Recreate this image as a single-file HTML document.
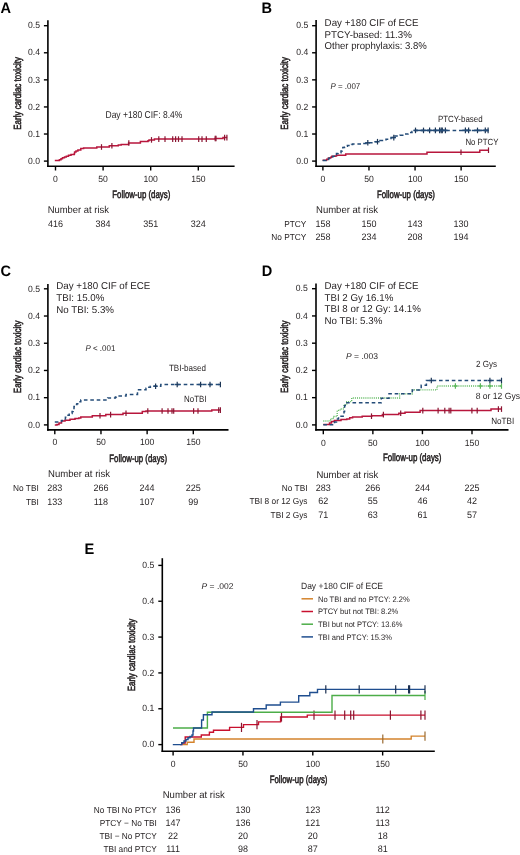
<!DOCTYPE html>
<html><head><meta charset="utf-8"><style>
html,body{margin:0;padding:0;background:#fff;}
body{width:520px;height:855px;overflow:hidden;}
svg{display:block;font-family:"Liberation Sans", sans-serif;text-rendering:geometricPrecision;filter:blur(0.3px);}
</style></head><body>
<svg width="520" height="855" viewBox="0 0 520 855" fill="#231f20" stroke-linecap="butt">
<text x="0.40" y="12.70" font-size="15.18" font-weight="bold" fill="#000" textLength="10.54" lengthAdjust="spacingAndGlyphs">A</text>
<line x1="47.90" y1="20.30" x2="47.90" y2="166.95" stroke="#000" stroke-width="1.6"/>
<line x1="47.15" y1="166.20" x2="234.60" y2="166.20" stroke="#000" stroke-width="1.6"/>
<line x1="43.90" y1="161.10" x2="47.90" y2="161.10" stroke="#000" stroke-width="1.4"/>
<text x="40.00" y="163.80" font-size="9.03" text-anchor="end" textLength="11.96" lengthAdjust="spacingAndGlyphs">0.0</text>
<line x1="43.90" y1="134.02" x2="47.90" y2="134.02" stroke="#000" stroke-width="1.4"/>
<text x="40.00" y="136.72" font-size="9.03" text-anchor="end" textLength="11.96" lengthAdjust="spacingAndGlyphs">0.1</text>
<line x1="43.90" y1="106.94" x2="47.90" y2="106.94" stroke="#000" stroke-width="1.4"/>
<text x="40.00" y="109.64" font-size="9.03" text-anchor="end" textLength="11.96" lengthAdjust="spacingAndGlyphs">0.2</text>
<line x1="43.90" y1="79.86" x2="47.90" y2="79.86" stroke="#000" stroke-width="1.4"/>
<text x="40.00" y="82.56" font-size="9.03" text-anchor="end" textLength="11.96" lengthAdjust="spacingAndGlyphs">0.3</text>
<line x1="43.90" y1="52.78" x2="47.90" y2="52.78" stroke="#000" stroke-width="1.4"/>
<text x="40.00" y="55.48" font-size="9.03" text-anchor="end" textLength="11.96" lengthAdjust="spacingAndGlyphs">0.4</text>
<line x1="43.90" y1="25.70" x2="47.90" y2="25.70" stroke="#000" stroke-width="1.4"/>
<text x="40.00" y="28.40" font-size="9.03" text-anchor="end" textLength="11.96" lengthAdjust="spacingAndGlyphs">0.5</text>
<line x1="55.50" y1="166.20" x2="55.50" y2="170.50" stroke="#000" stroke-width="1.4"/>
<text x="55.50" y="182.00" font-size="9.03" text-anchor="middle" textLength="4.78" lengthAdjust="spacingAndGlyphs">0</text>
<line x1="103.10" y1="166.20" x2="103.10" y2="170.50" stroke="#000" stroke-width="1.4"/>
<text x="103.10" y="182.00" font-size="9.03" text-anchor="middle" textLength="9.57" lengthAdjust="spacingAndGlyphs">50</text>
<line x1="150.70" y1="166.20" x2="150.70" y2="170.50" stroke="#000" stroke-width="1.4"/>
<text x="150.70" y="182.00" font-size="9.03" text-anchor="middle" textLength="14.35" lengthAdjust="spacingAndGlyphs">100</text>
<line x1="198.30" y1="166.20" x2="198.30" y2="170.50" stroke="#000" stroke-width="1.4"/>
<text x="198.30" y="182.00" font-size="9.03" text-anchor="middle" textLength="14.35" lengthAdjust="spacingAndGlyphs">150</text>
<text x="141.25" y="197.70" font-size="10.80" text-anchor="middle" textLength="58.00" lengthAdjust="spacingAndGlyphs" stroke="#231f20" stroke-width="0.55">Follow-up (days)</text>
<text x="20.80" y="93.40" font-size="10.40" text-anchor="middle" textLength="72.60" lengthAdjust="spacingAndGlyphs" transform="rotate(-90 20.80 93.40)" stroke="#231f20" stroke-width="0.55">Early cardiac toxicity</text>
<path d="M54.80 160.60H59.40V159.80H61.00V158.80H62.50V157.80H64.50V157.00H66.30V156.20H68.50V155.30H71.00V154.50H74.30V153.50H74.60V151.90H76.00V150.90H77.90V149.90H80.80V148.60H83.60V147.90H96.80V147.00H109.30V145.80H118.30V145.10H121.20V144.60H128.60V143.00H140.40V141.60H148.00V140.80H149.00V139.90H154.40V139.10H215.00V138.50H223.00V137.60H227.20" fill="none" stroke="#b8163c" stroke-width="1.5"/>
<line x1="101.50" y1="144.20" x2="101.50" y2="149.80" stroke="#8a1633" stroke-width="1.2"/>
<line x1="111.90" y1="143.00" x2="111.90" y2="148.60" stroke="#8a1633" stroke-width="1.2"/>
<line x1="128.80" y1="140.20" x2="128.80" y2="145.80" stroke="#8a1633" stroke-width="1.2"/>
<line x1="151.50" y1="137.10" x2="151.50" y2="142.70" stroke="#8a1633" stroke-width="1.2"/>
<line x1="158.80" y1="136.30" x2="158.80" y2="141.90" stroke="#8a1633" stroke-width="1.2"/>
<line x1="165.00" y1="136.30" x2="165.00" y2="141.90" stroke="#8a1633" stroke-width="1.2"/>
<line x1="172.70" y1="136.30" x2="172.70" y2="141.90" stroke="#8a1633" stroke-width="1.2"/>
<line x1="175.60" y1="136.30" x2="175.60" y2="141.90" stroke="#8a1633" stroke-width="1.2"/>
<line x1="178.50" y1="136.30" x2="178.50" y2="141.90" stroke="#8a1633" stroke-width="1.2"/>
<line x1="182.00" y1="136.30" x2="182.00" y2="141.90" stroke="#8a1633" stroke-width="1.2"/>
<line x1="198.70" y1="136.30" x2="198.70" y2="141.90" stroke="#8a1633" stroke-width="1.2"/>
<line x1="202.00" y1="136.30" x2="202.00" y2="141.90" stroke="#8a1633" stroke-width="1.2"/>
<line x1="206.30" y1="136.30" x2="206.30" y2="141.90" stroke="#8a1633" stroke-width="1.2"/>
<line x1="215.20" y1="135.70" x2="215.20" y2="141.30" stroke="#8a1633" stroke-width="1.2"/>
<line x1="216.00" y1="135.70" x2="216.00" y2="141.30" stroke="#8a1633" stroke-width="1.2"/>
<line x1="224.60" y1="134.80" x2="224.60" y2="140.40" stroke="#8a1633" stroke-width="1.2"/>
<line x1="226.90" y1="134.80" x2="226.90" y2="140.40" stroke="#8a1633" stroke-width="1.2"/>
<text x="105.50" y="118.20" font-size="9.97" textLength="76.80" lengthAdjust="spacingAndGlyphs">Day +180 CIF: 8.4%</text>
<text x="47.70" y="213.10" font-size="9.97" textLength="61.20" lengthAdjust="spacingAndGlyphs">Number at risk</text>
<text x="55.50" y="227.00" font-size="9.45" text-anchor="middle" textLength="15.02" lengthAdjust="spacingAndGlyphs">416</text>
<text x="103.10" y="227.00" font-size="9.45" text-anchor="middle" textLength="15.02" lengthAdjust="spacingAndGlyphs">384</text>
<text x="150.70" y="227.00" font-size="9.45" text-anchor="middle" textLength="15.02" lengthAdjust="spacingAndGlyphs">351</text>
<text x="198.30" y="227.00" font-size="9.45" text-anchor="middle" textLength="15.02" lengthAdjust="spacingAndGlyphs">324</text>
<text x="261.60" y="12.80" font-size="15.18" font-weight="bold" fill="#000" textLength="10.54" lengthAdjust="spacingAndGlyphs">B</text>
<line x1="316.10" y1="20.10" x2="316.10" y2="166.95" stroke="#000" stroke-width="1.6"/>
<line x1="315.35" y1="166.20" x2="495.80" y2="166.20" stroke="#000" stroke-width="1.6"/>
<line x1="312.10" y1="161.10" x2="316.10" y2="161.10" stroke="#000" stroke-width="1.4"/>
<text x="308.20" y="163.80" font-size="9.03" text-anchor="end" textLength="11.96" lengthAdjust="spacingAndGlyphs">0.0</text>
<line x1="312.10" y1="134.02" x2="316.10" y2="134.02" stroke="#000" stroke-width="1.4"/>
<text x="308.20" y="136.72" font-size="9.03" text-anchor="end" textLength="11.96" lengthAdjust="spacingAndGlyphs">0.1</text>
<line x1="312.10" y1="106.94" x2="316.10" y2="106.94" stroke="#000" stroke-width="1.4"/>
<text x="308.20" y="109.64" font-size="9.03" text-anchor="end" textLength="11.96" lengthAdjust="spacingAndGlyphs">0.2</text>
<line x1="312.10" y1="79.86" x2="316.10" y2="79.86" stroke="#000" stroke-width="1.4"/>
<text x="308.20" y="82.56" font-size="9.03" text-anchor="end" textLength="11.96" lengthAdjust="spacingAndGlyphs">0.3</text>
<line x1="312.10" y1="52.78" x2="316.10" y2="52.78" stroke="#000" stroke-width="1.4"/>
<text x="308.20" y="55.48" font-size="9.03" text-anchor="end" textLength="11.96" lengthAdjust="spacingAndGlyphs">0.4</text>
<line x1="312.10" y1="25.70" x2="316.10" y2="25.70" stroke="#000" stroke-width="1.4"/>
<text x="308.20" y="28.40" font-size="9.03" text-anchor="end" textLength="11.96" lengthAdjust="spacingAndGlyphs">0.5</text>
<line x1="322.90" y1="166.20" x2="322.90" y2="170.50" stroke="#000" stroke-width="1.4"/>
<text x="322.90" y="182.00" font-size="9.03" text-anchor="middle" textLength="4.78" lengthAdjust="spacingAndGlyphs">0</text>
<line x1="368.97" y1="166.20" x2="368.97" y2="170.50" stroke="#000" stroke-width="1.4"/>
<text x="368.97" y="182.00" font-size="9.03" text-anchor="middle" textLength="9.57" lengthAdjust="spacingAndGlyphs">50</text>
<line x1="415.05" y1="166.20" x2="415.05" y2="170.50" stroke="#000" stroke-width="1.4"/>
<text x="415.05" y="182.00" font-size="9.03" text-anchor="middle" textLength="14.35" lengthAdjust="spacingAndGlyphs">100</text>
<line x1="461.12" y1="166.20" x2="461.12" y2="170.50" stroke="#000" stroke-width="1.4"/>
<text x="461.12" y="182.00" font-size="9.03" text-anchor="middle" textLength="14.35" lengthAdjust="spacingAndGlyphs">150</text>
<text x="405.95" y="197.80" font-size="10.80" text-anchor="middle" textLength="58.00" lengthAdjust="spacingAndGlyphs" stroke="#231f20" stroke-width="0.55">Follow-up (days)</text>
<text x="288.50" y="93.40" font-size="10.40" text-anchor="middle" textLength="72.60" lengthAdjust="spacingAndGlyphs" transform="rotate(-90 288.50 93.40)" stroke="#231f20" stroke-width="0.55">Early cardiac toxicity</text>
<text x="324.60" y="26.00" font-size="9.95" textLength="94.02" lengthAdjust="spacingAndGlyphs">Day +180 CIF of ECE</text>
<text x="324.60" y="37.60" font-size="9.95" textLength="87.26" lengthAdjust="spacingAndGlyphs">PTCY-based: 11.3%</text>
<text x="324.60" y="49.20" font-size="9.95" textLength="102.30" lengthAdjust="spacingAndGlyphs">Other prophylaxis: 3.8%</text>
<text x="330.40" y="89.00" font-size="8.40" textLength="29.88" lengthAdjust="spacingAndGlyphs"><tspan font-style="italic">P</tspan> = .007</text>
<path d="M322.60 160.30H326.70V159.20H328.40V158.00H330.70V157.30H331.80V156.30H335.30V155.90H336.50V155.20H345.70V153.90H427.00V152.20H479.80V150.20H488.50" fill="none" stroke="#b8163c" stroke-width="1.5"/>
<line x1="461.00" y1="149.40" x2="461.00" y2="155.00" stroke="#8a1633" stroke-width="1.2"/>
<line x1="488.50" y1="147.40" x2="488.50" y2="153.00" stroke="#8a1633" stroke-width="1.2"/>
<path d="M322.60 160.40H326.10V159.60H328.50V158.60H329.50V157.90H330.70V156.80H333.00V156.20H334.20V155.10H335.30V154.40H336.50V153.40H338.20V152.70H341.00V151.00H342.20V149.80H342.80V147.50H344.50V146.90H346.30V146.30H347.40V145.50H349.70V145.20H351.50V144.40H352.60V144.00H363.00V143.40H366.00V142.80H373.00V141.70H380.00V140.60H386.00V139.30H391.00V137.60H395.00V136.00H400.00V135.30H404.00V134.00H408.00V132.60H412.00V131.40H415.00V130.40H488.50" fill="none" stroke="#244c78" stroke-width="1.5" stroke-dasharray="3.6 2.8"/>
<line x1="365.60" y1="142.80" x2="370.00" y2="142.80" stroke="#244c78" stroke-width="1.5"/>
<line x1="367.80" y1="140.00" x2="367.80" y2="145.60" stroke="#1c3555" stroke-width="1.2"/>
<line x1="375.30" y1="141.70" x2="379.70" y2="141.70" stroke="#244c78" stroke-width="1.5"/>
<line x1="377.50" y1="138.90" x2="377.50" y2="144.50" stroke="#1c3555" stroke-width="1.2"/>
<line x1="391.60" y1="137.60" x2="396.00" y2="137.60" stroke="#244c78" stroke-width="1.5"/>
<line x1="393.80" y1="134.80" x2="393.80" y2="140.40" stroke="#1c3555" stroke-width="1.2"/>
<line x1="413.30" y1="130.40" x2="417.70" y2="130.40" stroke="#244c78" stroke-width="1.5"/>
<line x1="415.50" y1="127.60" x2="415.50" y2="133.20" stroke="#1c3555" stroke-width="1.2"/>
<line x1="421.30" y1="130.40" x2="425.70" y2="130.40" stroke="#244c78" stroke-width="1.5"/>
<line x1="423.50" y1="127.60" x2="423.50" y2="133.20" stroke="#1c3555" stroke-width="1.2"/>
<line x1="427.40" y1="130.40" x2="431.80" y2="130.40" stroke="#244c78" stroke-width="1.5"/>
<line x1="429.60" y1="127.60" x2="429.60" y2="133.20" stroke="#1c3555" stroke-width="1.2"/>
<line x1="433.20" y1="130.40" x2="437.60" y2="130.40" stroke="#244c78" stroke-width="1.5"/>
<line x1="435.40" y1="127.60" x2="435.40" y2="133.20" stroke="#1c3555" stroke-width="1.2"/>
<line x1="437.40" y1="130.40" x2="441.80" y2="130.40" stroke="#244c78" stroke-width="1.5"/>
<line x1="439.60" y1="127.60" x2="439.60" y2="133.20" stroke="#1c3555" stroke-width="1.2"/>
<line x1="439.00" y1="130.40" x2="443.40" y2="130.40" stroke="#244c78" stroke-width="1.5"/>
<line x1="441.20" y1="127.60" x2="441.20" y2="133.20" stroke="#1c3555" stroke-width="1.2"/>
<line x1="440.10" y1="130.40" x2="444.50" y2="130.40" stroke="#244c78" stroke-width="1.5"/>
<line x1="442.30" y1="127.60" x2="442.30" y2="133.20" stroke="#1c3555" stroke-width="1.2"/>
<line x1="443.20" y1="130.40" x2="447.60" y2="130.40" stroke="#244c78" stroke-width="1.5"/>
<line x1="445.40" y1="127.60" x2="445.40" y2="133.20" stroke="#1c3555" stroke-width="1.2"/>
<line x1="463.20" y1="130.40" x2="467.60" y2="130.40" stroke="#244c78" stroke-width="1.5"/>
<line x1="465.40" y1="127.60" x2="465.40" y2="133.20" stroke="#1c3555" stroke-width="1.2"/>
<line x1="466.40" y1="130.40" x2="470.80" y2="130.40" stroke="#244c78" stroke-width="1.5"/>
<line x1="468.60" y1="127.60" x2="468.60" y2="133.20" stroke="#1c3555" stroke-width="1.2"/>
<line x1="475.30" y1="130.40" x2="479.70" y2="130.40" stroke="#244c78" stroke-width="1.5"/>
<line x1="477.50" y1="127.60" x2="477.50" y2="133.20" stroke="#1c3555" stroke-width="1.2"/>
<line x1="483.10" y1="130.40" x2="487.50" y2="130.40" stroke="#244c78" stroke-width="1.5"/>
<line x1="485.30" y1="127.60" x2="485.30" y2="133.20" stroke="#1c3555" stroke-width="1.2"/>
<line x1="485.90" y1="130.40" x2="488.50" y2="130.40" stroke="#244c78" stroke-width="1.5"/>
<line x1="488.10" y1="127.60" x2="488.10" y2="133.20" stroke="#1c3555" stroke-width="1.2"/>
<line x1="415.50" y1="130.40" x2="446.50" y2="130.40" stroke="#244c78" stroke-width="1.5"/>
<line x1="462.00" y1="130.40" x2="470.50" y2="130.40" stroke="#244c78" stroke-width="1.5"/>
<line x1="474.00" y1="130.40" x2="488.50" y2="130.40" stroke="#244c78" stroke-width="1.5"/>
<text x="437.90" y="121.60" font-size="9.03" textLength="44.80" lengthAdjust="spacingAndGlyphs">PTCY-based</text>
<text x="465.40" y="145.20" font-size="9.03" textLength="33.10" lengthAdjust="spacingAndGlyphs">No PTCY</text>
<text x="316.00" y="213.30" font-size="9.97" textLength="61.90" lengthAdjust="spacingAndGlyphs">Number at risk</text>
<text x="306.30" y="226.80" font-size="8.72" text-anchor="end" textLength="22.14" lengthAdjust="spacingAndGlyphs">PTCY</text>
<text x="306.30" y="240.20" font-size="8.72" text-anchor="end" textLength="35.05" lengthAdjust="spacingAndGlyphs">No PTCY</text>
<text x="322.90" y="226.80" font-size="9.45" text-anchor="middle" textLength="15.02" lengthAdjust="spacingAndGlyphs">158</text>
<text x="368.97" y="226.80" font-size="9.45" text-anchor="middle" textLength="15.02" lengthAdjust="spacingAndGlyphs">150</text>
<text x="415.05" y="226.80" font-size="9.45" text-anchor="middle" textLength="15.02" lengthAdjust="spacingAndGlyphs">143</text>
<text x="461.12" y="226.80" font-size="9.45" text-anchor="middle" textLength="15.02" lengthAdjust="spacingAndGlyphs">130</text>
<text x="322.90" y="240.20" font-size="9.45" text-anchor="middle" textLength="15.02" lengthAdjust="spacingAndGlyphs">258</text>
<text x="368.97" y="240.20" font-size="9.45" text-anchor="middle" textLength="15.02" lengthAdjust="spacingAndGlyphs">234</text>
<text x="415.05" y="240.20" font-size="9.45" text-anchor="middle" textLength="15.02" lengthAdjust="spacingAndGlyphs">208</text>
<text x="461.12" y="240.20" font-size="9.45" text-anchor="middle" textLength="15.02" lengthAdjust="spacingAndGlyphs">194</text>
<text x="0.40" y="275.70" font-size="15.18" font-weight="bold" fill="#000" textLength="10.54" lengthAdjust="spacingAndGlyphs">C</text>
<line x1="47.90" y1="284.10" x2="47.90" y2="430.65" stroke="#000" stroke-width="1.6"/>
<line x1="47.15" y1="429.90" x2="228.50" y2="429.90" stroke="#000" stroke-width="1.6"/>
<line x1="43.90" y1="424.90" x2="47.90" y2="424.90" stroke="#000" stroke-width="1.4"/>
<text x="40.00" y="427.60" font-size="9.03" text-anchor="end" textLength="11.96" lengthAdjust="spacingAndGlyphs">0.0</text>
<line x1="43.90" y1="397.68" x2="47.90" y2="397.68" stroke="#000" stroke-width="1.4"/>
<text x="40.00" y="400.38" font-size="9.03" text-anchor="end" textLength="11.96" lengthAdjust="spacingAndGlyphs">0.1</text>
<line x1="43.90" y1="370.46" x2="47.90" y2="370.46" stroke="#000" stroke-width="1.4"/>
<text x="40.00" y="373.16" font-size="9.03" text-anchor="end" textLength="11.96" lengthAdjust="spacingAndGlyphs">0.2</text>
<line x1="43.90" y1="343.24" x2="47.90" y2="343.24" stroke="#000" stroke-width="1.4"/>
<text x="40.00" y="345.94" font-size="9.03" text-anchor="end" textLength="11.96" lengthAdjust="spacingAndGlyphs">0.3</text>
<line x1="43.90" y1="316.02" x2="47.90" y2="316.02" stroke="#000" stroke-width="1.4"/>
<text x="40.00" y="318.72" font-size="9.03" text-anchor="end" textLength="11.96" lengthAdjust="spacingAndGlyphs">0.4</text>
<line x1="43.90" y1="288.80" x2="47.90" y2="288.80" stroke="#000" stroke-width="1.4"/>
<text x="40.00" y="291.50" font-size="9.03" text-anchor="end" textLength="11.96" lengthAdjust="spacingAndGlyphs">0.5</text>
<line x1="54.80" y1="429.90" x2="54.80" y2="434.20" stroke="#000" stroke-width="1.4"/>
<text x="54.80" y="445.40" font-size="9.03" text-anchor="middle" textLength="4.78" lengthAdjust="spacingAndGlyphs">0</text>
<line x1="100.97" y1="429.90" x2="100.97" y2="434.20" stroke="#000" stroke-width="1.4"/>
<text x="100.97" y="445.40" font-size="9.03" text-anchor="middle" textLength="9.57" lengthAdjust="spacingAndGlyphs">50</text>
<line x1="147.13" y1="429.90" x2="147.13" y2="434.20" stroke="#000" stroke-width="1.4"/>
<text x="147.13" y="445.40" font-size="9.03" text-anchor="middle" textLength="14.35" lengthAdjust="spacingAndGlyphs">100</text>
<line x1="193.30" y1="429.90" x2="193.30" y2="434.20" stroke="#000" stroke-width="1.4"/>
<text x="193.30" y="445.40" font-size="9.03" text-anchor="middle" textLength="14.35" lengthAdjust="spacingAndGlyphs">150</text>
<text x="138.20" y="461.50" font-size="10.80" text-anchor="middle" textLength="57.70" lengthAdjust="spacingAndGlyphs" stroke="#231f20" stroke-width="0.55">Follow-up (days)</text>
<text x="20.80" y="356.85" font-size="10.40" text-anchor="middle" textLength="72.60" lengthAdjust="spacingAndGlyphs" transform="rotate(-90 20.80 356.85)" stroke="#231f20" stroke-width="0.55">Early cardiac toxicity</text>
<text x="56.20" y="289.10" font-size="9.95" textLength="94.02" lengthAdjust="spacingAndGlyphs">Day +180 CIF of ECE</text>
<text x="56.20" y="301.00" font-size="9.95" textLength="48.23" lengthAdjust="spacingAndGlyphs">TBI: 15.0%</text>
<text x="56.20" y="312.70" font-size="9.95" textLength="57.81" lengthAdjust="spacingAndGlyphs">No TBI: 5.3%</text>
<text x="85.40" y="350.70" font-size="8.40" textLength="30.00" lengthAdjust="spacingAndGlyphs"><tspan font-style="italic">P</tspan> &lt; .001</text>
<path d="M54.80 425.00H57.00V424.60H59.00V423.00H61.50V421.00H65.00V420.20H70.00V419.30H75.00V418.60H78.80V418.00H80.80V417.00H92.30V415.80H105.80V414.60H123.00V413.30H142.30V411.60H146.00V411.00H211.80V410.10H220.40" fill="none" stroke="#b8163c" stroke-width="1.5"/>
<line x1="100.00" y1="413.00" x2="100.00" y2="418.60" stroke="#8a1633" stroke-width="1.2"/>
<line x1="110.60" y1="411.80" x2="110.60" y2="417.40" stroke="#8a1633" stroke-width="1.2"/>
<line x1="126.00" y1="410.50" x2="126.00" y2="416.10" stroke="#8a1633" stroke-width="1.2"/>
<line x1="147.80" y1="408.20" x2="147.80" y2="413.80" stroke="#8a1633" stroke-width="1.2"/>
<line x1="162.10" y1="408.20" x2="162.10" y2="413.80" stroke="#8a1633" stroke-width="1.2"/>
<line x1="168.00" y1="408.20" x2="168.00" y2="413.80" stroke="#8a1633" stroke-width="1.2"/>
<line x1="172.00" y1="408.20" x2="172.00" y2="413.80" stroke="#8a1633" stroke-width="1.2"/>
<line x1="173.70" y1="408.20" x2="173.70" y2="413.80" stroke="#8a1633" stroke-width="1.2"/>
<line x1="193.60" y1="408.20" x2="193.60" y2="413.80" stroke="#8a1633" stroke-width="1.2"/>
<line x1="198.00" y1="408.20" x2="198.00" y2="413.80" stroke="#8a1633" stroke-width="1.2"/>
<line x1="218.70" y1="407.30" x2="218.70" y2="412.90" stroke="#8a1633" stroke-width="1.2"/>
<line x1="220.40" y1="407.30" x2="220.40" y2="412.90" stroke="#8a1633" stroke-width="1.2"/>
<path d="M54.80 422.00H59.00V421.60H61.50V420.40H63.50V419.00H65.40V417.20H67.30V415.30H69.20V413.40H72.10V411.40H73.10V409.40H74.00V406.60H75.00V404.60H76.90V403.70H78.50V401.70H80.80V399.90H107.70V397.90H115.40V396.90H116.30V396.00H126.00V394.60H137.50V389.80H146.00V388.30H148.00V387.30H150.40V386.20H160.80V384.50H220.40" fill="none" stroke="#244c78" stroke-width="1.5" stroke-dasharray="3.6 2.8"/>
<line x1="153.40" y1="386.20" x2="157.80" y2="386.20" stroke="#244c78" stroke-width="1.5"/>
<line x1="155.60" y1="383.40" x2="155.60" y2="389.00" stroke="#1c3555" stroke-width="1.2"/>
<line x1="175.00" y1="384.50" x2="179.40" y2="384.50" stroke="#244c78" stroke-width="1.5"/>
<line x1="177.20" y1="381.70" x2="177.20" y2="387.30" stroke="#1c3555" stroke-width="1.2"/>
<line x1="198.40" y1="384.50" x2="202.80" y2="384.50" stroke="#244c78" stroke-width="1.5"/>
<line x1="200.60" y1="381.70" x2="200.60" y2="387.30" stroke="#1c3555" stroke-width="1.2"/>
<line x1="207.80" y1="384.50" x2="212.20" y2="384.50" stroke="#244c78" stroke-width="1.5"/>
<line x1="210.00" y1="381.70" x2="210.00" y2="387.30" stroke="#1c3555" stroke-width="1.2"/>
<line x1="218.20" y1="384.50" x2="220.40" y2="384.50" stroke="#244c78" stroke-width="1.5"/>
<line x1="220.40" y1="381.70" x2="220.40" y2="387.30" stroke="#1c3555" stroke-width="1.2"/>
<text x="168.90" y="370.50" font-size="9.03" textLength="37.10" lengthAdjust="spacingAndGlyphs">TBI-based</text>
<text x="184.10" y="402.30" font-size="9.03" textLength="22.50" lengthAdjust="spacingAndGlyphs">NoTBI</text>
<text x="48.00" y="477.00" font-size="9.97" textLength="62.00" lengthAdjust="spacingAndGlyphs">Number at risk</text>
<text x="38.80" y="491.30" font-size="8.72" text-anchor="end" textLength="25.68" lengthAdjust="spacingAndGlyphs">No TBI</text>
<text x="38.80" y="504.60" font-size="8.72" text-anchor="end" textLength="12.91" lengthAdjust="spacingAndGlyphs">TBI</text>
<text x="54.80" y="491.30" font-size="9.45" text-anchor="middle" textLength="15.02" lengthAdjust="spacingAndGlyphs">283</text>
<text x="100.97" y="491.30" font-size="9.45" text-anchor="middle" textLength="15.02" lengthAdjust="spacingAndGlyphs">266</text>
<text x="147.13" y="491.30" font-size="9.45" text-anchor="middle" textLength="15.02" lengthAdjust="spacingAndGlyphs">244</text>
<text x="193.30" y="491.30" font-size="9.45" text-anchor="middle" textLength="15.02" lengthAdjust="spacingAndGlyphs">225</text>
<text x="54.80" y="504.60" font-size="9.45" text-anchor="middle" textLength="15.02" lengthAdjust="spacingAndGlyphs">133</text>
<text x="100.97" y="504.60" font-size="9.45" text-anchor="middle" textLength="14.35" lengthAdjust="spacingAndGlyphs">118</text>
<text x="147.13" y="504.60" font-size="9.45" text-anchor="middle" textLength="15.02" lengthAdjust="spacingAndGlyphs">107</text>
<text x="193.30" y="504.60" font-size="9.45" text-anchor="middle" textLength="10.01" lengthAdjust="spacingAndGlyphs">99</text>
<text x="261.80" y="275.90" font-size="15.18" font-weight="bold" fill="#000" textLength="10.54" lengthAdjust="spacingAndGlyphs">D</text>
<line x1="316.00" y1="283.50" x2="316.00" y2="430.65" stroke="#000" stroke-width="1.6"/>
<line x1="315.25" y1="429.90" x2="508.50" y2="429.90" stroke="#000" stroke-width="1.6"/>
<line x1="312.00" y1="424.90" x2="316.00" y2="424.90" stroke="#000" stroke-width="1.4"/>
<text x="307.80" y="427.60" font-size="9.03" text-anchor="end" textLength="11.96" lengthAdjust="spacingAndGlyphs">0.0</text>
<line x1="312.00" y1="397.66" x2="316.00" y2="397.66" stroke="#000" stroke-width="1.4"/>
<text x="307.80" y="400.36" font-size="9.03" text-anchor="end" textLength="11.96" lengthAdjust="spacingAndGlyphs">0.1</text>
<line x1="312.00" y1="370.42" x2="316.00" y2="370.42" stroke="#000" stroke-width="1.4"/>
<text x="307.80" y="373.12" font-size="9.03" text-anchor="end" textLength="11.96" lengthAdjust="spacingAndGlyphs">0.2</text>
<line x1="312.00" y1="343.18" x2="316.00" y2="343.18" stroke="#000" stroke-width="1.4"/>
<text x="307.80" y="345.88" font-size="9.03" text-anchor="end" textLength="11.96" lengthAdjust="spacingAndGlyphs">0.3</text>
<line x1="312.00" y1="315.94" x2="316.00" y2="315.94" stroke="#000" stroke-width="1.4"/>
<text x="307.80" y="318.64" font-size="9.03" text-anchor="end" textLength="11.96" lengthAdjust="spacingAndGlyphs">0.4</text>
<line x1="312.00" y1="288.70" x2="316.00" y2="288.70" stroke="#000" stroke-width="1.4"/>
<text x="307.80" y="291.40" font-size="9.03" text-anchor="end" textLength="11.96" lengthAdjust="spacingAndGlyphs">0.5</text>
<line x1="323.30" y1="429.90" x2="323.30" y2="434.20" stroke="#000" stroke-width="1.4"/>
<text x="323.30" y="445.60" font-size="9.03" text-anchor="middle" textLength="4.78" lengthAdjust="spacingAndGlyphs">0</text>
<line x1="372.87" y1="429.90" x2="372.87" y2="434.20" stroke="#000" stroke-width="1.4"/>
<text x="372.87" y="445.60" font-size="9.03" text-anchor="middle" textLength="9.57" lengthAdjust="spacingAndGlyphs">50</text>
<line x1="422.43" y1="429.90" x2="422.43" y2="434.20" stroke="#000" stroke-width="1.4"/>
<text x="422.43" y="445.60" font-size="9.03" text-anchor="middle" textLength="14.35" lengthAdjust="spacingAndGlyphs">100</text>
<line x1="472.00" y1="429.90" x2="472.00" y2="434.20" stroke="#000" stroke-width="1.4"/>
<text x="472.00" y="445.60" font-size="9.03" text-anchor="middle" textLength="14.35" lengthAdjust="spacingAndGlyphs">150</text>
<text x="412.25" y="461.00" font-size="10.80" text-anchor="middle" textLength="58.40" lengthAdjust="spacingAndGlyphs" stroke="#231f20" stroke-width="0.55">Follow-up (days)</text>
<text x="288.40" y="356.80" font-size="10.40" text-anchor="middle" textLength="72.60" lengthAdjust="spacingAndGlyphs" transform="rotate(-90 288.40 356.80)" stroke="#231f20" stroke-width="0.55">Early cardiac toxicity</text>
<text x="324.50" y="289.00" font-size="9.95" textLength="94.02" lengthAdjust="spacingAndGlyphs">Day +180 CIF of ECE</text>
<text x="324.50" y="300.80" font-size="9.95" textLength="68.82" lengthAdjust="spacingAndGlyphs">TBI 2 Gy 16.1%</text>
<text x="324.50" y="312.20" font-size="9.95" textLength="96.46" lengthAdjust="spacingAndGlyphs">TBI 8 or 12 Gy: 14.1%</text>
<text x="324.50" y="323.70" font-size="9.95" textLength="57.81" lengthAdjust="spacingAndGlyphs">No TBI: 5.3%</text>
<text x="346.00" y="358.80" font-size="8.40" textLength="32.00" lengthAdjust="spacingAndGlyphs"><tspan font-style="italic">P</tspan> = .003</text>
<path d="M323.30 424.60H329.50V422.90H331.50V421.50H334.30V420.40H341.00V419.60H346.80V419.00H349.70V417.70H352.60V416.90H362.20V416.20H371.80V415.80H382.40V414.60H398.80V413.30H405.00V412.30H420.10V410.60H491.00V409.10H501.50" fill="none" stroke="#b8163c" stroke-width="1.5"/>
<line x1="371.50" y1="413.40" x2="371.50" y2="419.00" stroke="#8a1633" stroke-width="1.2"/>
<line x1="383.40" y1="411.80" x2="383.40" y2="417.40" stroke="#8a1633" stroke-width="1.2"/>
<line x1="400.70" y1="410.50" x2="400.70" y2="416.10" stroke="#8a1633" stroke-width="1.2"/>
<line x1="422.80" y1="407.80" x2="422.80" y2="413.40" stroke="#8a1633" stroke-width="1.2"/>
<line x1="438.10" y1="407.80" x2="438.10" y2="413.40" stroke="#8a1633" stroke-width="1.2"/>
<line x1="444.80" y1="407.80" x2="444.80" y2="413.40" stroke="#8a1633" stroke-width="1.2"/>
<line x1="449.10" y1="407.80" x2="449.10" y2="413.40" stroke="#8a1633" stroke-width="1.2"/>
<line x1="450.80" y1="407.80" x2="450.80" y2="413.40" stroke="#8a1633" stroke-width="1.2"/>
<line x1="471.90" y1="407.80" x2="471.90" y2="413.40" stroke="#8a1633" stroke-width="1.2"/>
<line x1="477.20" y1="407.80" x2="477.20" y2="413.40" stroke="#8a1633" stroke-width="1.2"/>
<line x1="498.40" y1="406.30" x2="498.40" y2="411.90" stroke="#8a1633" stroke-width="1.2"/>
<line x1="501.50" y1="406.30" x2="501.50" y2="411.90" stroke="#8a1633" stroke-width="1.2"/>
<path d="M323.30 421.00H330.00V419.50H332.00V418.00H334.00V416.50H337.20V410.40H340.00V409.00H344.00V404.60H346.80V401.70H351.70V398.00H399.60V393.80H412.30V389.90H437.00V386.00H501.50" fill="none" stroke="#5cb85c" stroke-width="1.3" stroke-dasharray="1 1.1"/>
<line x1="453.20" y1="386.00" x2="457.60" y2="386.00" stroke="#5cb85c" stroke-width="1.3"/>
<line x1="455.40" y1="383.20" x2="455.40" y2="388.80" stroke="#5cb85c" stroke-width="1.2"/>
<line x1="478.20" y1="386.00" x2="482.60" y2="386.00" stroke="#5cb85c" stroke-width="1.3"/>
<line x1="480.40" y1="383.20" x2="480.40" y2="388.80" stroke="#5cb85c" stroke-width="1.2"/>
<line x1="487.70" y1="386.00" x2="492.10" y2="386.00" stroke="#5cb85c" stroke-width="1.3"/>
<line x1="489.90" y1="383.20" x2="489.90" y2="388.80" stroke="#5cb85c" stroke-width="1.2"/>
<line x1="499.30" y1="386.00" x2="501.50" y2="386.00" stroke="#5cb85c" stroke-width="1.3"/>
<line x1="501.50" y1="383.20" x2="501.50" y2="388.80" stroke="#5cb85c" stroke-width="1.2"/>
<path d="M323.30 424.80H334.50V422.00H336.50V419.00H338.50V416.20H344.00V411.50H344.60V405.50H346.00V402.80H381.30V398.30H389.00V393.80H412.30V389.90H421.20V385.20H426.40V380.50H501.50" fill="none" stroke="#244c78" stroke-width="1.5" stroke-dasharray="3.6 2.8"/>
<line x1="429.10" y1="380.50" x2="433.50" y2="380.50" stroke="#244c78" stroke-width="1.5"/>
<line x1="431.30" y1="377.70" x2="431.30" y2="383.30" stroke="#1c3555" stroke-width="1.2"/>
<line x1="487.70" y1="380.50" x2="492.10" y2="380.50" stroke="#244c78" stroke-width="1.5"/>
<line x1="489.90" y1="377.70" x2="489.90" y2="383.30" stroke="#1c3555" stroke-width="1.2"/>
<line x1="499.30" y1="380.50" x2="501.50" y2="380.50" stroke="#244c78" stroke-width="1.5"/>
<line x1="501.50" y1="377.70" x2="501.50" y2="383.30" stroke="#1c3555" stroke-width="1.2"/>
<text x="476.00" y="367.40" font-size="9.03" textLength="21.00" lengthAdjust="spacingAndGlyphs">2 Gys</text>
<text x="475.70" y="398.60" font-size="9.03" textLength="44.30" lengthAdjust="spacingAndGlyphs">8 or 12 Gys</text>
<text x="491.20" y="423.60" font-size="9.03" textLength="23.00" lengthAdjust="spacingAndGlyphs">NoTBI</text>
<text x="316.40" y="477.50" font-size="9.97" textLength="61.90" lengthAdjust="spacingAndGlyphs">Number at risk</text>
<text x="307.50" y="491.00" font-size="8.72" text-anchor="end" textLength="25.68" lengthAdjust="spacingAndGlyphs">No TBI</text>
<text x="307.50" y="504.40" font-size="8.72" text-anchor="end" textLength="58.12" lengthAdjust="spacingAndGlyphs">TBI 8 or 12 Gys</text>
<text x="307.50" y="517.90" font-size="8.72" text-anchor="end" textLength="36.90" lengthAdjust="spacingAndGlyphs">TBI 2 Gys</text>
<text x="323.30" y="491.00" font-size="9.45" text-anchor="middle" textLength="15.02" lengthAdjust="spacingAndGlyphs">283</text>
<text x="372.87" y="491.00" font-size="9.45" text-anchor="middle" textLength="15.02" lengthAdjust="spacingAndGlyphs">266</text>
<text x="422.43" y="491.00" font-size="9.45" text-anchor="middle" textLength="15.02" lengthAdjust="spacingAndGlyphs">244</text>
<text x="472.00" y="491.00" font-size="9.45" text-anchor="middle" textLength="15.02" lengthAdjust="spacingAndGlyphs">225</text>
<text x="323.30" y="504.40" font-size="9.45" text-anchor="middle" textLength="10.01" lengthAdjust="spacingAndGlyphs">62</text>
<text x="372.87" y="504.40" font-size="9.45" text-anchor="middle" textLength="10.01" lengthAdjust="spacingAndGlyphs">55</text>
<text x="422.43" y="504.40" font-size="9.45" text-anchor="middle" textLength="10.01" lengthAdjust="spacingAndGlyphs">46</text>
<text x="472.00" y="504.40" font-size="9.45" text-anchor="middle" textLength="10.01" lengthAdjust="spacingAndGlyphs">42</text>
<text x="323.30" y="517.90" font-size="9.45" text-anchor="middle" textLength="10.01" lengthAdjust="spacingAndGlyphs">71</text>
<text x="372.87" y="517.90" font-size="9.45" text-anchor="middle" textLength="10.01" lengthAdjust="spacingAndGlyphs">63</text>
<text x="422.43" y="517.90" font-size="9.45" text-anchor="middle" textLength="10.01" lengthAdjust="spacingAndGlyphs">61</text>
<text x="472.00" y="517.90" font-size="9.45" text-anchor="middle" textLength="10.01" lengthAdjust="spacingAndGlyphs">57</text>
<text x="84.40" y="553.90" font-size="15.18" font-weight="bold" fill="#000" textLength="9.74" lengthAdjust="spacingAndGlyphs">E</text>
<line x1="162.30" y1="558.20" x2="162.30" y2="751.95" stroke="#000" stroke-width="1.6"/>
<line x1="161.55" y1="751.20" x2="434.80" y2="751.20" stroke="#000" stroke-width="1.6"/>
<line x1="158.30" y1="744.60" x2="162.30" y2="744.60" stroke="#000" stroke-width="1.4"/>
<text x="154.20" y="747.30" font-size="9.03" text-anchor="end" textLength="11.96" lengthAdjust="spacingAndGlyphs">0.0</text>
<line x1="158.30" y1="708.76" x2="162.30" y2="708.76" stroke="#000" stroke-width="1.4"/>
<text x="154.20" y="711.46" font-size="9.03" text-anchor="end" textLength="11.96" lengthAdjust="spacingAndGlyphs">0.1</text>
<line x1="158.30" y1="672.92" x2="162.30" y2="672.92" stroke="#000" stroke-width="1.4"/>
<text x="154.20" y="675.62" font-size="9.03" text-anchor="end" textLength="11.96" lengthAdjust="spacingAndGlyphs">0.2</text>
<line x1="158.30" y1="637.08" x2="162.30" y2="637.08" stroke="#000" stroke-width="1.4"/>
<text x="154.20" y="639.78" font-size="9.03" text-anchor="end" textLength="11.96" lengthAdjust="spacingAndGlyphs">0.3</text>
<line x1="158.30" y1="601.24" x2="162.30" y2="601.24" stroke="#000" stroke-width="1.4"/>
<text x="154.20" y="603.94" font-size="9.03" text-anchor="end" textLength="11.96" lengthAdjust="spacingAndGlyphs">0.4</text>
<line x1="158.30" y1="565.40" x2="162.30" y2="565.40" stroke="#000" stroke-width="1.4"/>
<text x="154.20" y="568.10" font-size="9.03" text-anchor="end" textLength="11.96" lengthAdjust="spacingAndGlyphs">0.5</text>
<line x1="173.10" y1="751.20" x2="173.10" y2="755.50" stroke="#000" stroke-width="1.4"/>
<text x="173.10" y="767.20" font-size="9.03" text-anchor="middle" textLength="4.78" lengthAdjust="spacingAndGlyphs">0</text>
<line x1="242.95" y1="751.20" x2="242.95" y2="755.50" stroke="#000" stroke-width="1.4"/>
<text x="242.95" y="767.20" font-size="9.03" text-anchor="middle" textLength="9.57" lengthAdjust="spacingAndGlyphs">50</text>
<line x1="312.80" y1="751.20" x2="312.80" y2="755.50" stroke="#000" stroke-width="1.4"/>
<text x="312.80" y="767.20" font-size="9.03" text-anchor="middle" textLength="14.35" lengthAdjust="spacingAndGlyphs">100</text>
<line x1="382.65" y1="751.20" x2="382.65" y2="755.50" stroke="#000" stroke-width="1.4"/>
<text x="382.65" y="767.20" font-size="9.03" text-anchor="middle" textLength="14.35" lengthAdjust="spacingAndGlyphs">150</text>
<text x="298.55" y="782.50" font-size="10.80" text-anchor="middle" textLength="57.80" lengthAdjust="spacingAndGlyphs" stroke="#231f20" stroke-width="0.55">Follow-up (days)</text>
<text x="134.60" y="655.00" font-size="10.40" text-anchor="middle" textLength="72.60" lengthAdjust="spacingAndGlyphs" transform="rotate(-90 134.60 655.00)" stroke="#231f20" stroke-width="0.55">Early cardiac toxicity</text>
<text x="201.50" y="588.60" font-size="8.40" textLength="32.00" lengthAdjust="spacingAndGlyphs"><tspan font-style="italic">P</tspan> = .002</text>
<text x="301.00" y="588.70" font-size="9.03" textLength="82.00" lengthAdjust="spacingAndGlyphs">Day +180 CIF of ECE</text>
<line x1="301.50" y1="598.80" x2="313.00" y2="598.80" stroke="#d4832c" stroke-width="1.5"/>
<text x="318.00" y="601.50" font-size="7.93" textLength="91.77" lengthAdjust="spacingAndGlyphs">No TBI and no PTCY: 2.2%</text>
<line x1="301.50" y1="611.50" x2="313.00" y2="611.50" stroke="#c8102e" stroke-width="1.5"/>
<text x="318.00" y="614.20" font-size="7.93" textLength="80.30" lengthAdjust="spacingAndGlyphs">PTCY but not TBI: 8.2%</text>
<line x1="301.50" y1="624.20" x2="313.00" y2="624.20" stroke="#4cad48" stroke-width="1.5"/>
<text x="318.00" y="626.90" font-size="7.93" textLength="84.35" lengthAdjust="spacingAndGlyphs">TBI but not PTCY: 13.6%</text>
<line x1="301.50" y1="636.90" x2="313.00" y2="636.90" stroke="#1f4e8f" stroke-width="1.5"/>
<text x="318.00" y="639.60" font-size="7.93" textLength="73.86" lengthAdjust="spacingAndGlyphs">TBI and PTCY: 15.3%</text>
<path d="M183.00 744.60H187.20V742.20H194.00V739.00H411.20V736.10H425.00" fill="none" stroke="#d4832c" stroke-width="1.4"/>
<line x1="382.80" y1="734.40" x2="382.80" y2="743.60" stroke="#9a6a30" stroke-width="1.2"/>
<line x1="425.00" y1="731.50" x2="425.00" y2="740.70" stroke="#9a6a30" stroke-width="1.2"/>
<path d="M180.00 744.60H182.00V743.00H185.20V737.00H201.30V735.00H209.40V732.30H213.50V730.30H229.60V727.40H243.50V724.60H258.50V721.90H280.60V717.00H307.30V715.10H425.00" fill="none" stroke="#c8102e" stroke-width="1.4"/>
<line x1="241.50" y1="722.80" x2="241.50" y2="732.00" stroke="#8a1530" stroke-width="1.2"/>
<line x1="257.00" y1="720.00" x2="257.00" y2="729.20" stroke="#8a1530" stroke-width="1.2"/>
<line x1="281.50" y1="712.40" x2="281.50" y2="721.60" stroke="#8a1530" stroke-width="1.2"/>
<line x1="314.00" y1="710.50" x2="314.00" y2="719.70" stroke="#8a1530" stroke-width="1.2"/>
<line x1="335.00" y1="710.50" x2="335.00" y2="719.70" stroke="#8a1530" stroke-width="1.2"/>
<line x1="344.70" y1="710.50" x2="344.70" y2="719.70" stroke="#8a1530" stroke-width="1.2"/>
<line x1="350.70" y1="710.50" x2="350.70" y2="719.70" stroke="#8a1530" stroke-width="1.2"/>
<line x1="353.70" y1="710.50" x2="353.70" y2="719.70" stroke="#8a1530" stroke-width="1.2"/>
<line x1="390.40" y1="710.50" x2="390.40" y2="719.70" stroke="#8a1530" stroke-width="1.2"/>
<line x1="420.90" y1="710.50" x2="420.90" y2="719.70" stroke="#8a1530" stroke-width="1.2"/>
<line x1="425.00" y1="710.50" x2="425.00" y2="719.70" stroke="#8a1530" stroke-width="1.2"/>
<path d="M173.00 728.00H207.40V712.20H332.00V695.50H425.00" fill="none" stroke="#4cad48" stroke-width="1.4"/>
<line x1="425.00" y1="690.90" x2="425.00" y2="700.10" stroke="#4cad48" stroke-width="1.2"/>
<path d="M172.80 744.60H181.80V742.80H184.00V741.00H186.00V739.50H188.00V737.80H190.00V736.50H192.00V735.00H193.00V731.00H193.50V728.00H201.60V720.00H203.40V714.80H212.00V712.00H253.50V708.80H266.20V705.00H280.40V702.10H298.70V695.80H309.80V692.50H317.50V689.40H425.00" fill="none" stroke="#1f4e8f" stroke-width="1.4"/>
<line x1="325.80" y1="685.20" x2="325.80" y2="693.60" stroke="#1b2f50" stroke-width="1.2"/>
<line x1="359.20" y1="685.20" x2="359.20" y2="693.60" stroke="#1b2f50" stroke-width="1.2"/>
<line x1="395.70" y1="685.20" x2="395.70" y2="693.60" stroke="#1b2f50" stroke-width="1.2"/>
<line x1="408.60" y1="685.20" x2="408.60" y2="693.60" stroke="#1b2f50" stroke-width="1.2"/>
<line x1="409.60" y1="685.20" x2="409.60" y2="693.60" stroke="#1b2f50" stroke-width="1.2"/>
<line x1="425.00" y1="685.20" x2="425.00" y2="693.60" stroke="#1b2f50" stroke-width="1.2"/>
<text x="162.70" y="797.50" font-size="9.97" textLength="62.00" lengthAdjust="spacingAndGlyphs">Number at risk</text>
<text x="156.90" y="812.50" font-size="8.72" text-anchor="end" textLength="63.04" lengthAdjust="spacingAndGlyphs">No TBI No PTCY</text>
<text x="173.10" y="812.50" font-size="9.45" text-anchor="middle" textLength="15.02" lengthAdjust="spacingAndGlyphs">136</text>
<text x="242.95" y="812.50" font-size="9.45" text-anchor="middle" textLength="15.02" lengthAdjust="spacingAndGlyphs">130</text>
<text x="312.80" y="812.50" font-size="9.45" text-anchor="middle" textLength="15.02" lengthAdjust="spacingAndGlyphs">123</text>
<text x="382.65" y="812.50" font-size="9.45" text-anchor="middle" textLength="14.35" lengthAdjust="spacingAndGlyphs">112</text>
<text x="156.90" y="825.77" font-size="8.72" text-anchor="end" textLength="57.12" lengthAdjust="spacingAndGlyphs">PTCY − No TBI</text>
<text x="173.10" y="825.77" font-size="9.45" text-anchor="middle" textLength="15.02" lengthAdjust="spacingAndGlyphs">147</text>
<text x="242.95" y="825.77" font-size="9.45" text-anchor="middle" textLength="15.02" lengthAdjust="spacingAndGlyphs">136</text>
<text x="312.80" y="825.77" font-size="9.45" text-anchor="middle" textLength="15.02" lengthAdjust="spacingAndGlyphs">121</text>
<text x="382.65" y="825.77" font-size="9.45" text-anchor="middle" textLength="14.35" lengthAdjust="spacingAndGlyphs">113</text>
<text x="156.90" y="839.04" font-size="8.72" text-anchor="end" textLength="57.42" lengthAdjust="spacingAndGlyphs">TBI − No PTCY</text>
<text x="173.10" y="839.04" font-size="9.45" text-anchor="middle" textLength="10.01" lengthAdjust="spacingAndGlyphs">22</text>
<text x="242.95" y="839.04" font-size="9.45" text-anchor="middle" textLength="10.01" lengthAdjust="spacingAndGlyphs">20</text>
<text x="312.80" y="839.04" font-size="9.45" text-anchor="middle" textLength="10.01" lengthAdjust="spacingAndGlyphs">20</text>
<text x="382.65" y="839.04" font-size="9.45" text-anchor="middle" textLength="10.01" lengthAdjust="spacingAndGlyphs">18</text>
<text x="156.90" y="852.31" font-size="8.72" text-anchor="end" textLength="53.51" lengthAdjust="spacingAndGlyphs">TBI and PTCY</text>
<text x="173.10" y="852.31" font-size="9.45" text-anchor="middle" textLength="13.68" lengthAdjust="spacingAndGlyphs">111</text>
<text x="242.95" y="852.31" font-size="9.45" text-anchor="middle" textLength="10.01" lengthAdjust="spacingAndGlyphs">98</text>
<text x="312.80" y="852.31" font-size="9.45" text-anchor="middle" textLength="10.01" lengthAdjust="spacingAndGlyphs">87</text>
<text x="382.65" y="852.31" font-size="9.45" text-anchor="middle" textLength="10.01" lengthAdjust="spacingAndGlyphs">81</text>
</svg>
</body></html>
